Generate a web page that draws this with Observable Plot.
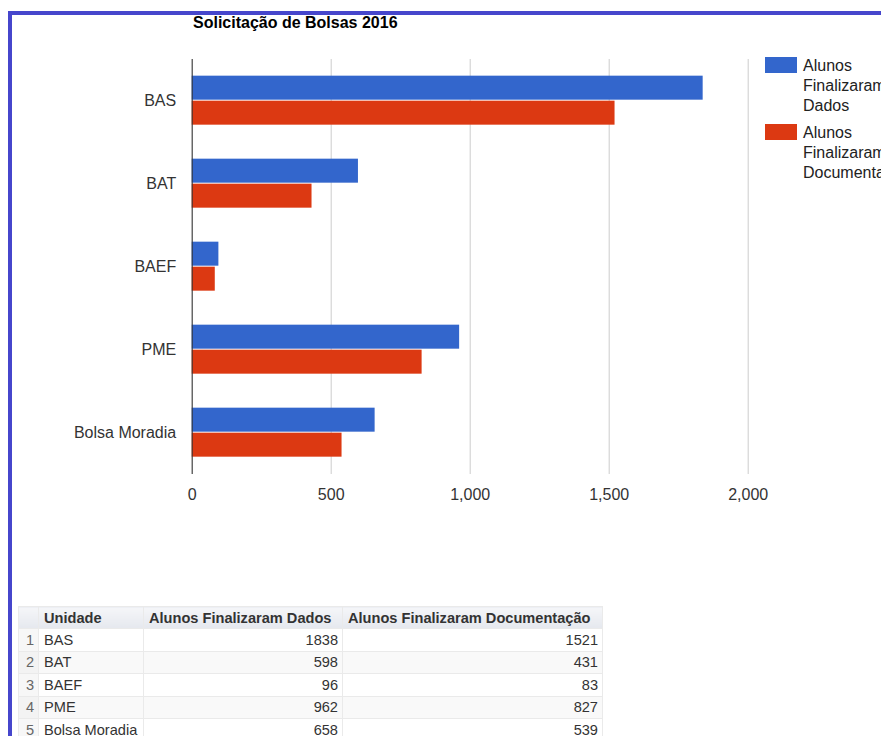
<!DOCTYPE html>
<html>
<head>
<meta charset="utf-8">
<script src="https://cdn.jsdelivr.net/npm/d3@7"></script>
<script src="https://cdn.jsdelivr.net/npm/@observablehq/plot@0.6"></script>
<style>
html,body{margin:0;padding:0;width:881px;height:736px;overflow:hidden;background:#fff;font-family:Arial,"Liberation Sans",sans-serif;}
#frame{position:absolute;left:8px;top:11px;width:873px;height:725px;border-top:4px solid #4646cc;border-left:4px solid #4646cc;box-sizing:border-box;}
#chart{position:absolute;left:0;top:0;}
#title{position:absolute;left:193px;top:13px;font-weight:bold;font-size:16px;line-height:20px;color:#000;white-space:nowrap;}
#legend{position:absolute;left:765px;top:56px;width:116px;}
.item{position:relative;height:67px;}
.sw{position:absolute;left:0;top:1px;width:32px;height:16px;}
.lt{position:absolute;left:38px;top:0;width:76px;font-size:16px;line-height:20px;color:#222;}
#tbl{position:absolute;left:18px;top:606px;width:584px;border-collapse:collapse;table-layout:fixed;font-size:14.6px;color:#333;}
#tbl th,#tbl td{padding:0 4px 0 5px;white-space:nowrap;border:1px solid #eaeaea;overflow:visible;}
#tbl th{height:21px;text-align:left;font-weight:bold;background:linear-gradient(#f5f6f9,#e5e8ee);}
#tbl td{height:21.5px;}
#tbl td.seq{text-align:right;color:#666;background:#f7f7f7;}
#tbl td.num{text-align:right;}
#tbl tr.even td{background:#f9f9f9;}
#tbl tr.even td.seq{background:#f3f3f3;}
</style>
</head>
<body>
<div id="chart"></div>
<div id="frame"></div>
<div id="title"></div>
<div id="legend"></div>
<table id="tbl"></table>
<script>
const title = "Solicitação de Bolsas 2016";
const units = ["BAS", "BAT", "BAEF", "PME", "Bolsa Moradia"];
const series = ["Alunos Finalizaram Dados", "Alunos Finalizaram Documentação"];
const dados = [1838, 598, 96, 962, 658];
const documentacao = [1521, 431, 83, 827, 539];
const colors = ["#3366cc", "#dc3912"];
const xTicks = [0, 500, 1000, 1500, 2000];
const tableHeader = ["", "Unidade", "Alunos Finalizaram Dados", "Alunos Finalizaram Documentação"];

const rows = units.flatMap((u, i) => [
  {unit: u, series: series[0], value: dados[i]},
  {unit: u, series: series[1], value: documentacao[i]}
]);

const chart = Plot.plot({
  width: 881,
  height: 520,
  marginTop: 58.33,
  marginBottom: 45,
  marginLeft: 191.7,
  marginRight: 133.3,
  style: {fontFamily: "Arial, 'Liberation Sans', sans-serif", fontSize: "16px", color: "#333", background: "transparent", overflow: "visible"},
  x: {domain: [0, 2000], ticks: xTicks, tickFormat: d3.format(","), tickSize: 0, tickPadding: 14, label: null},
  y: {domain: series, axis: null, paddingInner: 0.03, paddingOuter: 0.65},
  fy: {domain: units, padding: 0, axis: "left", tickSize: 0, tickPadding: 16, label: null},
  color: {domain: series, range: colors},
  marks: [
    Plot.gridX(xTicks, {stroke: "#ccc", strokeOpacity: 1}),
    Plot.barX(rows, {fy: "unit", y: "series", x: "value", fill: "series"}),
    Plot.ruleX([0], {stroke: "#333", strokeWidth: 1})
  ]
});
document.getElementById("chart").appendChild(chart);
document.getElementById("title").textContent = title;

const legend = document.getElementById("legend");
series.forEach((s, i) => {
  const it = document.createElement("div");
  it.className = "item";
  const sw = document.createElement("div");
  sw.className = "sw";
  sw.style.background = colors[i];
  const lt = document.createElement("div");
  lt.className = "lt";
  lt.textContent = s;
  it.appendChild(sw);
  it.appendChild(lt);
  legend.appendChild(it);
});

const tbl = document.getElementById("tbl");
const colWidths = [20, 105, 199, 260];
const cg = document.createElement("colgroup");
colWidths.forEach(w => { const c = document.createElement("col"); c.style.width = w + "px"; cg.appendChild(c); });
tbl.appendChild(cg);
const hr = document.createElement("tr");
tableHeader.forEach(h => { const th = document.createElement("th"); th.textContent = h; hr.appendChild(th); });
tbl.appendChild(hr);
units.forEach((u, i) => {
  const tr = document.createElement("tr");
  if (i % 2 === 1) tr.className = "even";
  const cells = [[String(i + 1), "seq"], [u, ""], [String(dados[i]), "num"], [String(documentacao[i]), "num"]];
  cells.forEach(([t, c]) => { const td = document.createElement("td"); td.textContent = t; if (c) td.className = c; tr.appendChild(td); });
  tbl.appendChild(tr);
});
</script>
</body>
</html>
